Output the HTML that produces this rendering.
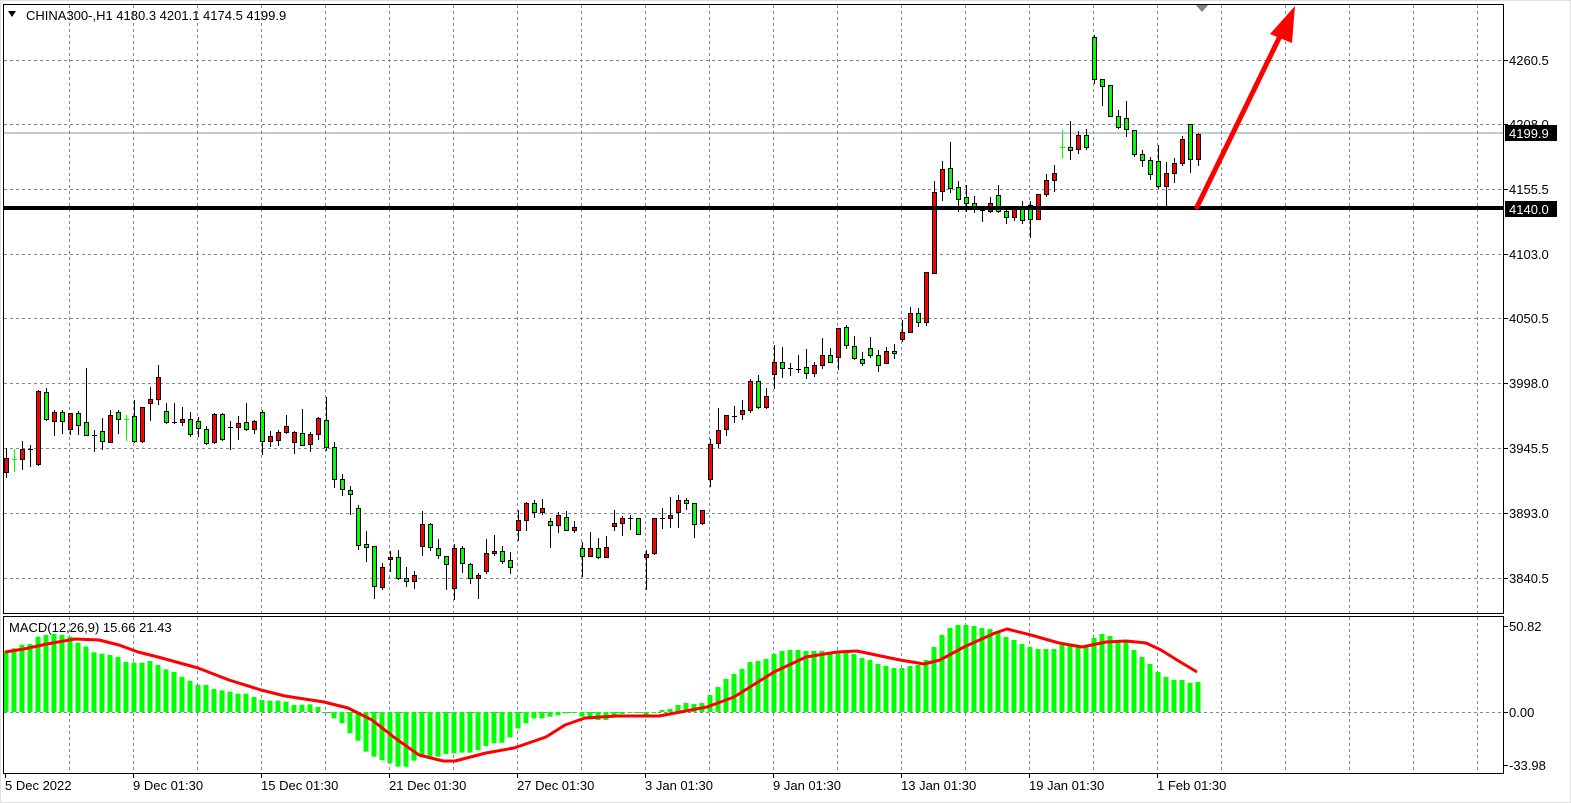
<!DOCTYPE html>
<html><head><meta charset="utf-8"><style>
html,body{margin:0;padding:0;background:#fff;}
svg{display:block;font-family:"Liberation Sans",sans-serif;}
</style></head><body>
<svg id="s" width="1571" height="803" xmlns="http://www.w3.org/2000/svg">
<rect x="0" y="0" width="1571" height="803" fill="#ffffff"/>
<g id="grid"></g>
<line x1="4" y1="133" x2="1504" y2="133" stroke="#8a96a3" stroke-width="1"/>
<g id="macd"></g>
<g id="candles"></g>
<line x1="4" y1="208" x2="1504" y2="208" stroke="#000" stroke-width="4"/>
<line x1="1197" y1="207" x2="1283" y2="30" stroke="#ff0000" stroke-width="5" stroke-linecap="round"/>
<polygon points="1295,6 1270,34 1292,43" fill="#ff0000"/>
<polygon points="1195,4 1209,4 1202,12" fill="#7a8590"/>
<rect x="3.5" y="4.5" width="1500" height="609" fill="none" stroke="#000" stroke-width="1"/>
<rect x="3.5" y="616.5" width="1500" height="157" fill="none" stroke="#000" stroke-width="1"/>
<polygon points="8,11 16,11 12,17" fill="#000"/>
<text x="26" y="20" font-size="13" fill="#000">CHINA300-,H1  4180.3 4201.1 4174.5 4199.9</text>
<text x="9" y="632" font-size="13" fill="#000">MACD(12,26,9) 15.66 21.43</text>
<g id="axis" font-size="13" fill="#000"></g>
<rect x="1505" y="125" width="52" height="16" fill="#000"/>
<text x="1509" y="138" font-size="13" fill="#fff">4199.9</text>
<rect x="1505" y="201" width="52" height="16" fill="#000"/>
<text x="1509" y="214" font-size="13" fill="#fff">4140.0</text>
<rect x="0.5" y="0.5" width="1570" height="802" fill="none" stroke="#e0e0e0"/>
</svg>
<script>
(function(){
var NS="http://www.w3.org/2000/svg";
function el(p,t,a){var e=document.createElementNS(NS,t);for(var k in a)e.setAttribute(k,a[k]);p.appendChild(e);return e;}
var grid=document.getElementById('grid'),macd=document.getElementById('macd'),cg=document.getElementById('candles'),ax=document.getElementById('axis');
for(var x=69;x<1504;x+=64){el(grid,'line',{x1:x+.5,y1:5,x2:x+.5,y2:613,stroke:'#7d8896','stroke-dasharray':'3,3'});el(grid,'line',{x1:x+.5,y1:617,x2:x+.5,y2:773,stroke:'#7d8896','stroke-dasharray':'3,3'});}
var py=[60,124,189,254,318,383,448,513,578],pl=['4260.5','4208.0','4155.5','4103.0','4050.5','3998.0','3945.5','3893.0','3840.5'];
for(var i=0;i<py.length;i++){el(grid,'line',{x1:4,y1:py[i]+.5,x2:1504,y2:py[i]+.5,stroke:'#7d8896','stroke-dasharray':'3,3'});el(ax,'line',{x1:1504,y1:py[i]+.5,x2:1508,y2:py[i]+.5,stroke:'#000'});var t=el(ax,'text',{x:1509,y:py[i]+5});t.textContent=pl[i];}
el(grid,'line',{x1:4,y1:712.5,x2:1504,y2:712.5,stroke:'#7d8896','stroke-dasharray':'3,3'});
[[626,'50.82'],[712,'0.00'],[765,'-33.98']].forEach(function(a){el(ax,'line',{x1:1504,y1:a[0]+.5,x2:1508,y2:a[0]+.5,stroke:'#000'});var t=el(ax,'text',{x:1509,y:a[0]+5});t.textContent=a[1];});
var dl=['5 Dec 2022','9 Dec 01:30','15 Dec 01:30','21 Dec 01:30','27 Dec 01:30','3 Jan 01:30','9 Jan 01:30','13 Jan 01:30','19 Jan 01:30','1 Feb 01:30'];
for(var i=0;i<dl.length;i++){var x=5+128*i;el(ax,'line',{x1:x+.5,y1:774,x2:x+.5,y2:778,stroke:'#000'});var t=el(ax,'text',{x:x,y:790});t.textContent=dl[i];}
var z5=[125,115,104,102,80,75,72,75,80,98,110,127,131,135,141,156,158,158,153,165,178,186,201,212,225,225,237,241,245,251,251,261,270,272,272,275,285,284,283,291,306,325,340,370,392,425,440,450,460,470,470,452,440,440,440,432,430,428,428,420,408,400,398,382,355,340,325,325,320,316,310,306,320,328,330];
var h=z5.map(function(v){return 610+v/3;});
var h2=[720,716,714,713,713,715,713,710,709,705,703,704,703,695,687,679,674,669,662,661,659,654,651,650,650,651,651,651,652,651,652,654,658,660,664,666,668,668,666,665,660,647,635,628,625,625,626,628,629,632,637,640,644,647,649,649,649,645,644,645,645,638,634,636,642,642,650,657,664,672,677,680,680,683,682];
h=h.concat(h2);
for(var i=0;i<h.length&&i<150;i++){var x=6+8*i,y=h[i],ty=Math.min(y,712),bh=Math.abs(y-712);if(bh<1)bh=1;el(macd,'rect',{x:x-2.5,y:ty,width:5,height:bh,fill:'#00ff00'});}
var sig=[[5,652],[24,649],[47,644],[75,639],[99,640],[119,645],[138,652],[158,657],[198,668],[229,680],[261,690],[285,696],[324,702],[348,708],[372,720],[395,738],[419,755],[443,761],[455,761],[486,753],[514,748],[546,737],[565,725],[585,718],[617,716],[659,716],[707,707],[734,697],[774,672],[806,657],[837,652],[857,651],[900,660],[924,664],[940,660],[964,647],[995,633],[1007,629],[1031,635],[1059,643],[1082,647],[1106,642],[1126,641],[1146,643],[1161,650],[1177,660],[1197,672]];
el(macd,'polyline',{points:sig.map(function(p){return p.join(',');}).join(' '),fill:'none',stroke:'#ff0000','stroke-width':3,'stroke-linejoin':'round'});
var C=[['r',458,472,448,478],['l',459,459,449,472],['r',449,459,441,470],['d',449,449,445,467],['r',391,464,390,466],['g',392,419,388,421],['r',412,421,410,436],['g',412,421,410,434],['r',413,429,413,435],['g',413,425,411,435],
['g',422,435,368,436],['d',435,435,430,452],['g',431,441,418,450],['r',415,442,410,442],['g',412,419,410,434],['l',419,419,415,441],['g',416,441,400,443],['r',407,441,407,443],['r',399,403,387,421],['r',377,399,365,405],
['g',411,422,403,424],['d',422,422,403,424],['r',419,422,407,426],['g',419,434,412,437],['g',421,428,417,437],['g',429,443,426,445],['r',414,442,413,444],['g',414,439,413,441],['d',427,427,421,450],['r',423,427,416,440],
['g',422,429,403,431],['r',421,429,420,434],['g',412,441,410,455],['r',436,441,431,447],['r',432,440,430,446],['r',426,432,415,434],['r',432,442,431,454],['g',433,445,409,446],['r',434,444,432,452],['r',418,434,417,440],
['g',420,447,397,451],['g',447,479,442,488],['g',479,489,474,496],['g',490,494,486,515],['g',508,545,505,550],['g',544,547,531,562],['g',546,586,546,599],['r',567,587,563,590],['r',557,559,551,572],['g',557,578,550,580],
['g',578,581,567,587],['r',575,581,571,589],['r',524,546,511,556],['g',524,547,523,551],['g',548,555,539,559],['g',556,564,556,590],['r',548,588,544,600],['g',548,563,546,573],['g',564,578,563,584],['r',575,578,573,599],
['r',553,571,539,574],['r',551,553,535,556],['g',551,561,546,564],['g',560,567,552,574],['r',520,530,510,541],['r',503,520,502,531],['g',503,512,500,518],['r',508,512,499,515],['g',521,525,518,548],['r',515,525,512,533],
['g',517,530,511,531],['r',527,530,521,533],['g',548,556,542,577],['r',548,556,532,556],['g',548,557,538,559],['r',547,557,536,557],['r',523,526,510,531],['r',518,523,516,536],['d',518,518,515,530],['g',518,534,518,534],
['r',554,557,550,590],['r',518,553,518,555],['d',518,518,508,529],['r',515,518,497,528],['r',500,512,495,528],['g',500,503,498,510],['g',503,524,503,538],['r',510,523,510,525],['r',444,479,439,487],['r',430,443,408,448],
['r',415,429,415,436],['d',416,416,406,423],['r',410,414,400,420],['r',381,410,379,413],['g',381,407,375,409],['r',396,407,388,409],['r',362,374,345,389],['g',362,368,347,378],['d',368,368,363,376],['d',369,369,355,373],
['g',367,373,349,379],['r',365,373,362,377],['r',355,365,338,369],['g',355,362,348,362],['r',328,357,328,370],['g',327,345,325,349],['g',346,358,336,360],['g',359,363,352,366],['g',348,355,337,358],['g',355,365,350,372],
['r',351,363,347,363],['g',351,353,344,359],['r',332,339,320,342],['r',313,332,307,333],['g',313,322,308,327],['r',272,322,272,326],['r',192,273,181,273],['r',169,191,161,201],['g',168,188,142,193],['g',187,199,181,212],
['g',197,203,185,212],['g',203,208,196,213],['d',210,210,207,222],['r',203,211,197,213],['g',195,211,185,213],['g',211,217,207,224],['r',209,217,207,221],['g',209,220,201,224],['g',205,219,201,238],['r',194,219,194,220],
['r',180,194,174,197],['r',173,180,165,192],['l',147,147,130,158],['g',147,150,121,160],['r',135,149,131,154],['g',135,147,129,150],['g',37,79,35,84],['g',79,86,79,106],['g',85,116,85,117],['g',116,127,110,129],
['g',118,129,101,137],['g',130,154,130,157],['g',154,160,150,167],['g',160,174,157,180],['g',161,186,145,189],['r',173,186,162,207],['r',163,173,158,183],['r',139,163,136,166],['g',124,159,124,173],['r',134,159,133,166]];
for(var i=0;i<C.length;i++){var c=C[i],x=6+8*i;
 var col=c[0]=='l'?'#00ff00':'#000';
 el(cg,'line',{x1:x+.5,y1:c[3],x2:x+.5,y2:c[4],stroke:col,'stroke-width':1});
 if(c[0]=='r'||c[0]=='g'){el(cg,'rect',{x:x-1.5,y:c[1]+.5,width:4,height:Math.max(c[2]-c[1],2),fill:c[0]=='r'?'#ff0000':'#00ff00',stroke:'#000','stroke-width':1});}
 else{el(cg,'line',{x1:x-2,y1:c[1]+.5,x2:x+3,y2:c[1]+.5,stroke:col,'stroke-width':1});}
}
})();
</script>
</body></html>
